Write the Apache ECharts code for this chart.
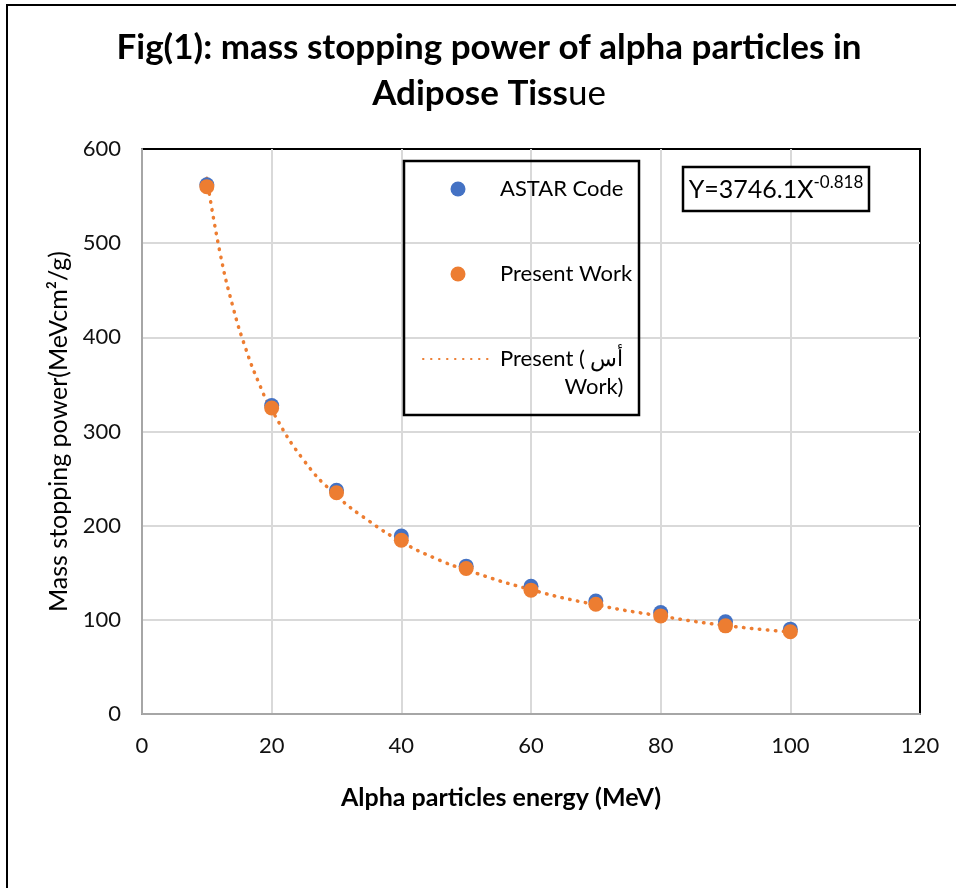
<!DOCTYPE html>
<html>
<head>
<meta charset="utf-8">
<script src="https://cdn.jsdelivr.net/npm/echarts@6/dist/echarts.min.js"></script>
<style>
  html, body { margin: 0; padding: 0; background: #fff; }
  #main { width: 956px; height: 888px; }
</style>
</head>
<body>
<div id="main"></div>
<script>
// energies (MeV)
var energy = [10, 20, 30, 40, 50, 60, 70, 80, 90, 100];
// mass stopping power (MeV cm2/g)
var astar = [562, 327.6, 237.5, 189, 157, 135.7, 120, 107.8, 97.9, 90.1];
var present = [560, 325, 235, 184.5, 154.5, 131.5, 116.6, 104.2, 93.6, 87.3];
// power trendline
var trendX = [10, 12, 14, 16, 18, 20, 25, 30, 35, 40, 45, 50, 60, 70, 80, 90, 100];
var trendY = [569, 491, 433, 388, 352, 323, 269, 232, 205, 183, 166, 153, 132, 116, 104, 94, 87];

var xTicks = { min: 0, max: 120, interval: 20 };
var yTicks = { min: 0, max: 600, interval: 100 };

var FONT = 'Lato, "Open Sans", sans-serif';
var BLUE = '#4472C4';
var ORANGE = '#ED7D31';
var TREND = 'Present ( أس Work)';

function pairs(xs, ys) {
  var out = [];
  for (var i = 0; i < xs.length; i++) out.push([xs[i], ys[i]]);
  return out;
}

var chart = echarts.init(document.getElementById('main'), null, { renderer: 'canvas' });

chart.setOption({
  backgroundColor: '#fff',
  animation: false,
  textStyle: { fontFamily: FONT },
  title: {
    left: 484,
    top: 20,
    textAlign: 'center',
    text: '{b|Fig(1): mass stopping power of alpha particles in}\n{b|Adipose Tiss}{n|ue}',
    textStyle: {
      rich: {
        b: { fontFamily: FONT, fontWeight: 'bold', fontSize: 35, lineHeight: 46, color: '#000' },
        n: { fontFamily: FONT, fontWeight: 'normal', fontSize: 35, lineHeight: 46, color: '#000' }
      }
    }
  },
  legend: {
    orient: 'vertical',
    left: 417,
    top: 142,
    itemWidth: 70,
    itemHeight: 15,
    itemGap: 1,
    selectedMode: false,
    textStyle: {
      fontFamily: FONT, fontSize: 22, color: '#000', lineHeight: 28,
      rich: {
        e: { fontSize: 22, lineHeight: 28 },
        a: { fontFamily: FONT, fontSize: 22, lineHeight: 28, color: '#000', padding: [0, 0, 0, 2] },
        r: { fontFamily: FONT, fontSize: 22, lineHeight: 28, color: '#000', align: 'right' }
      }
    },
    formatter: function (name) {
      if (name === TREND) {
        return '{e| }\n{a|Present ( أس}\n{r|Work)}';
      }
      return '{e| }\n{a|' + name + '}\n{e| }';
    },
    data: [
      { name: 'ASTAR Code', icon: 'circle' },
      { name: 'Present Work', icon: 'circle' },
      { name: TREND, itemStyle: { opacity: 0 } }
    ]
  },
  grid: {
    left: 142,
    right: 36,
    top: 149,
    bottom: 174,
    show: true,
    borderColor: '#000',
    borderWidth: 2
  },
  xAxis: {
    type: 'value',
    min: xTicks.min,
    max: xTicks.max,
    interval: xTicks.interval,
    name: 'Alpha particles energy (MeV)',
    nameLocation: 'middle',
    nameGap: 71,
    nameTextStyle: { fontFamily: FONT, fontWeight: 'bold', fontSize: 25, color: '#000', padding: [0, 60, 0, 0] },
    axisLine: { show: true, lineStyle: { color: '#a6a6a6', width: 2 } },
    axisTick: { show: false },
    axisLabel: { fontSize: 22, color: '#111', margin: 21 },
    splitLine: { show: true, showMinLine: false, showMaxLine: false, lineStyle: { color: '#d9d9d9', width: 2 } }
  },
  yAxis: {
    type: 'value',
    min: yTicks.min,
    max: yTicks.max,
    interval: yTicks.interval,
    name: 'Mass stopping power(MeVcm²/g)',
    nameLocation: 'middle',
    nameGap: 69,
    nameTextStyle: { fontFamily: FONT, fontSize: 25, color: '#000' },
    axisLine: { show: true, lineStyle: { color: '#a6a6a6', width: 2 } },
    axisTick: { show: false },
    axisLabel: { fontSize: 22, color: '#111', margin: 21 },
    splitLine: { show: true, showMinLine: false, showMaxLine: false, lineStyle: { color: '#d9d9d9', width: 2 } }
  },
  series: [
    {
      name: TREND,
      type: 'line',
      data: pairs(trendX, trendY),
      smooth: true,
      symbol: 'none',
      z: 3,
      itemStyle: { color: ORANGE },
      lineStyle: { color: ORANGE, width: 3.5, type: [0.5, 7.5], cap: 'round' }
    },
    {
      name: 'ASTAR Code',
      type: 'scatter',
      data: pairs(energy, astar),
      symbol: 'circle',
      symbolSize: 15,
      z: 4,
      itemStyle: { color: BLUE, opacity: 1 }
    },
    {
      name: 'Present Work',
      type: 'scatter',
      data: pairs(energy, present),
      symbol: 'circle',
      symbolSize: 15,
      z: 5,
      itemStyle: { color: ORANGE, opacity: 1 }
    }
  ],
  graphic: [
    {
      type: 'rect',
      shape: { x: 7, y: 5, width: 960, height: 900 },
      style: { fill: 'none', stroke: '#000', lineWidth: 2 },
      silent: true
    },
    {
      type: 'rect',
      shape: { x: 404, y: 161, width: 235, height: 254 },
      style: { fill: 'none', stroke: '#000', lineWidth: 2.5 },
      silent: true,
      z: 100
    },
    {
      type: 'rect',
      shape: { x: 683, y: 167, width: 186, height: 44 },
      style: { fill: '#fff', stroke: '#000', lineWidth: 2.5 },
      silent: true,
      z: 100
    },
    {
      type: 'text',
      x: 776,
      y: 190,
      z: 101,
      style: {
        text: '{a|Y=3746.1X}{s|-0.818}',
        align: 'center',
        verticalAlign: 'middle',
        rich: {
          a: { fontFamily: FONT, fontSize: 25, fill: '#000' },
          s: { fontFamily: FONT, fontSize: 17, fill: '#000', padding: [0, 0, 15, 0] }
        }
      }
    }
  ]
});
</script>
</body>
</html>
